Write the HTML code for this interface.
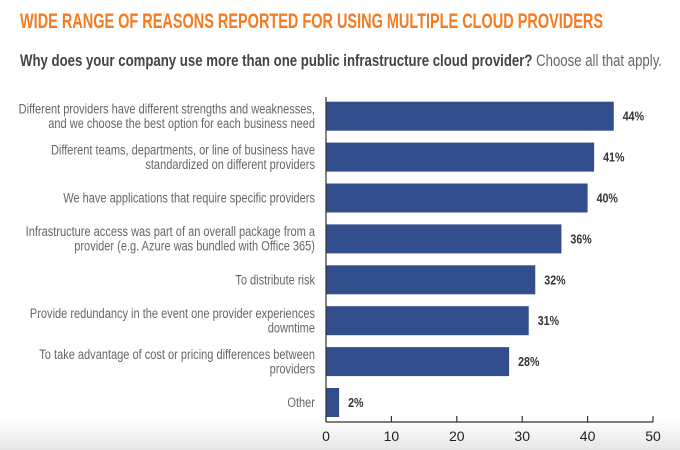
<!DOCTYPE html>
<html><head><meta charset="utf-8"><style>
html,body{margin:0;padding:0;background:#fff;width:680px;height:450px;overflow:hidden}
svg{display:block;font-family:"Liberation Sans",sans-serif}
</style></head><body>
<svg width="680" height="450">
<defs><linearGradient id="bg" x1="0" y1="0" x2="0" y2="1"><stop offset="0" stop-color="#fff"/><stop offset="1" stop-color="#e6e6e6"/></linearGradient></defs>
<rect x="0" y="420" width="680" height="30" fill="url(#bg)"/>
<text x="20" y="28" font-size="21" font-weight="bold" fill="#f47b20" textLength="583" lengthAdjust="spacingAndGlyphs">WIDE RANGE OF REASONS REPORTED FOR USING MULTIPLE CLOUD PROVIDERS</text>
<text x="20" y="66" font-size="17" fill="#444" textLength="642" lengthAdjust="spacingAndGlyphs"><tspan font-weight="bold">Why does your company use more than one public infrastructure cloud provider?</tspan><tspan fill="#666"> Choose all that apply.</tspan></text>
<g id="plot"></g>
</svg>
<script>
const categories=[["Different providers have different strengths and weaknesses,","and we choose the best option for each business need"],["Different teams, departments, or line of business have","standardized on different providers"],["We have applications that require specific providers"],["Infrastructure access was part of an overall package from a","provider (e.g. Azure was bundled with Office 365)"],["To distribute risk"],["Provide redundancy in the event one provider experiences","downtime"],["To take advantage of cost or pricing differences between","providers"],["Other"]];
const values=[44,41,40,36,32,31,28,2];
const ticks=[0,10,20,30,40,50];
const NS="http://www.w3.org/2000/svg";
const g=document.getElementById('plot');
const x0=326,x1=653,plotTop=97,pitch=40.9,bh=29,axisY=422;
const xs=v=>x0+(v-0)/(50-0)*(x1-x0);
function el(t,a,txt){const e=document.createElementNS(NS,t);for(const k in a)e.setAttribute(k,a[k]);if(txt!=null)e.textContent=txt;g.appendChild(e);return e;}
values.forEach((v,i)=>{
  const y=plotTop+4.7+i*pitch, cy=y+bh/2;
  const r=el('rect',{x:x0,y:y,width:xs(v)-x0,height:bh,fill:'#334e8c'});
  
  
  const t=el('text',{x:(xs(v)+9)/0.82,y:cy+4.5,'font-size':13,fill:'#333','font-weight':'bold',transform:'scale(0.82,1)'},v+'%');
  
  
  const lines=categories[i];
  lines.forEach((ln,j)=>{
    const ly=cy+4.5+(j-(lines.length-1)/2)*14.5;
    const c=el('text',{x:315/0.8,y:ly,'font-size':13.8,fill:'#666','text-anchor':'end',transform:'scale(0.8,1)'},ln);
    
    
  });
});
const ya=el('line',{x1:x0,y1:plotTop,x2:x0,y2:axisY,stroke:'#333','stroke-width':1.2});


const xa=el('line',{x1:x0,y1:axisY,x2:x1,y2:axisY,stroke:'#333','stroke-width':1.2});


ticks.forEach(t=>{
  const tk=el('line',{x1:xs(t),y1:axisY-6,x2:xs(t),y2:axisY,stroke:'#333','stroke-width':1.2});
  
  
  const tl=el('text',{x:xs(t),y:axisY+19,'font-size':14,fill:'#222','text-anchor':'middle'},t);
  
  
});
</script>
</body></html>
